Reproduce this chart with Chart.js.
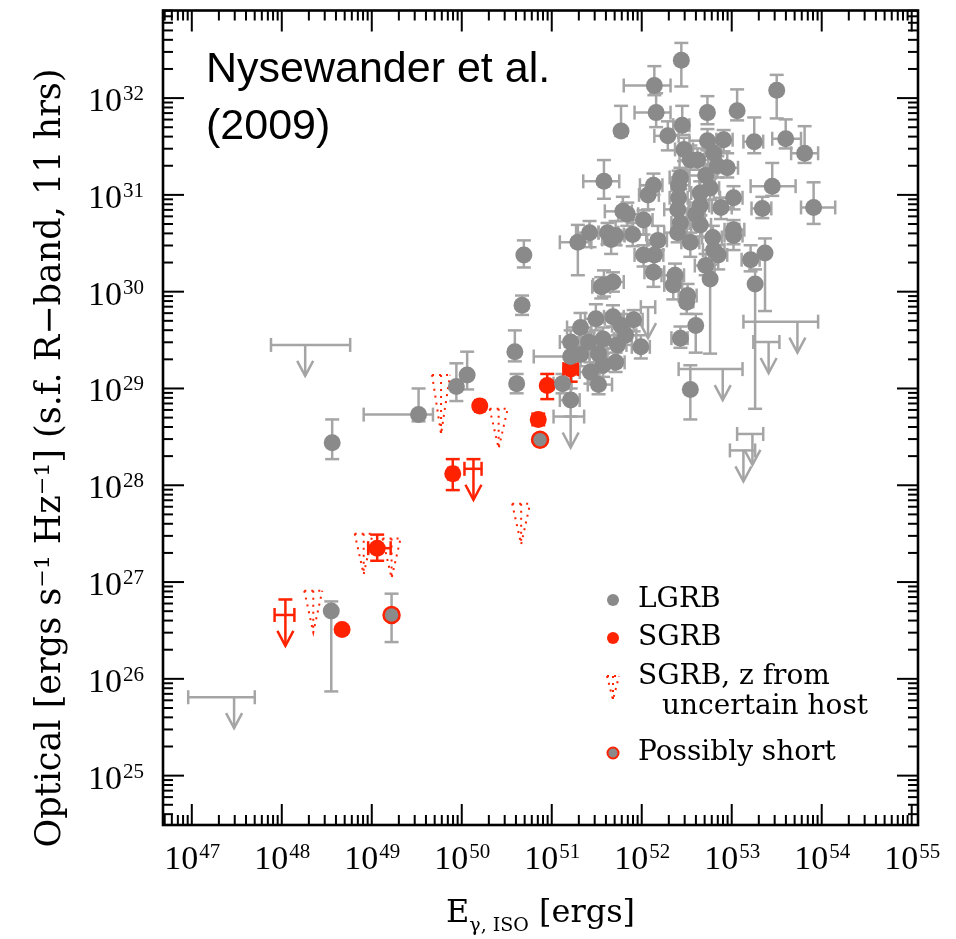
<!DOCTYPE html>
<html>
<head>
<meta charset="utf-8">
<script src="https://cdn.jsdelivr.net/npm/chart.js@4.4.1/dist/chart.umd.min.js"></script>
<style>
  html, body { margin: 0; padding: 0; background: #fff; }
</style>
</head>
<body>
<canvas id="grb" width="956" height="939"></canvas>
<script>
// axis decades (log10) and their labels as [base, exponent]
const xDecades = [47, 48, 49, 50, 51, 52, 53, 54, 55];
const xTickLabels = [["10","47"], ["10","48"], ["10","49"], ["10","50"], ["10","51"], ["10","52"], ["10","53"], ["10","54"], ["10","55"]];
const yDecades = [25, 26, 27, 28, 29, 30, 31, 32];
const yTickLabels = [["10","25"], ["10","26"], ["10","27"], ["10","28"], ["10","29"], ["10","30"], ["10","31"], ["10","32"]];

// LGRB: [log E, log L, err up, err down, x err low, x err high]  (errors in dex)
const lgrb = [
  [52.44, 32.39, 0.18, 0.27, 0, 0], [52.14, 32.13, 0.20, 0.10, 0.34, 0.18],
  [52.16, 31.85, 0.20, 0.15, 0.24, 0.16], [51.77, 31.66, 0.26, 0.05, 0, 0],
  [52.73, 31.85, 0.17, 0.12, 0, 0], [53.06, 31.87, 0.22, 0.10, 0, 0],
  [53.50, 32.08, 0.16, 0.29, 0, 0], [52.45, 31.72, 0.20, 0.10, 0.10, 0.08],
  [52.29, 31.61, 0.15, 0.15, 0.15, 0.12], [52.73, 31.56, 0.12, 0.10, 0.20, 0.10],
  [52.91, 31.57, 0.10, 0.12, 0.08, 0.10], [53.25, 31.55, 0.25, 0.12, 0.12, 0.10],
  [53.60, 31.58, 0.20, 0.10, 0.15, 0.17], [53.81, 31.43, 0.28, 0.10, 0.15, 0.15],
  [51.58, 31.14, 0.22, 0.18, 0.23, 0.17], [52.47, 31.47, 0.12, 0.12, 0.10, 0.10],
  [52.54, 31.36, 0.15, 0.10, 0.12, 0.15], [52.80, 31.43, 0.12, 0.15, 0.10, 0.08],
  [52.84, 31.30, 0.10, 0.12, 0.15, 0.10], [52.95, 31.28, 0.15, 0.10, 0.10, 0.12],
  [52.71, 31.20, 0.12, 0.15, 0.20, 0.10], [52.43, 31.18, 0.10, 0.12, 0.12, 0.10],
  [52.41, 31.10, 0.15, 0.12, 0.08, 0.12], [52.13, 31.10, 0.12, 0.10, 0.15, 0.10],
  [52.07, 31.00, 0.10, 0.15, 0.10, 0.12], [53.45, 31.09, 0.24, 0.10, 0.24, 0.26],
  [52.65, 31.02, 0.12, 0.12, 0.10, 0.15], [51.79, 30.83, 0.15, 0.10, 0.20, 0.10],
  [51.84, 30.80, 0.12, 0.12, 0.10, 0.12], [52.02, 30.74, 0.10, 0.15, 0.12, 0.10],
  [52.41, 30.97, 0.12, 0.10, 0.10, 0.10], [52.40, 30.85, 0.10, 0.12, 0.15, 0.12],
  [52.43, 30.71, 0.12, 0.15, 0.10, 0.10], [52.65, 30.89, 0.15, 0.10, 0.12, 0.10],
  [53.02, 30.97, 0.12, 0.12, 0.15, 0.10], [53.02, 30.64, 0.10, 0.15, 0.10, 0.12],
  [53.34, 30.86, 0.12, 0.10, 0.12, 0.10], [53.91, 30.87, 0.26, 0.17, 0.14, 0.24],
  [52.62, 31.36, 0.12, 0.10, 0.10, 0.12], [52.76, 31.07, 0.10, 0.12, 0.12, 0.10],
  [52.60, 30.80, 0.12, 0.10, 0.10, 0.10], [52.88, 30.87, 0.10, 0.12, 0.10, 0.12],
  [52.79, 30.56, 0.12, 0.12, 0.12, 0.10], [52.54, 30.51, 0.10, 0.15, 0.10, 0.10],
  [51.29, 30.51, 0.18, 0.34, 0.20, 0.15], [51.42, 30.61, 0.12, 0.15, 0.15, 0.10],
  [51.62, 30.61, 0.10, 0.12, 0.10, 0.12], [51.71, 30.58, 0.15, 0.10, 0.12, 0.10],
  [51.90, 30.59, 0.12, 0.12, 0.10, 0.15], [51.66, 30.54, 0.10, 0.15, 0.10, 0.10],
  [52.40, 30.61, 0.12, 0.10, 0.15, 0.10], [52.65, 30.69, 0.10, 0.12, 0.10, 0.12],
  [53.02, 30.58, 0.12, 0.15, 0.10, 0.10], [52.18, 30.53, 0.15, 0.10, 0.12, 0.10],
  [52.02, 30.38, 0.10, 0.12, 0.10, 0.15], [52.14, 30.38, 0.12, 0.15, 0.10, 0.10],
  [52.80, 30.43, 0.12, 0.10, 0.12, 0.12], [52.85, 30.38, 0.10, 0.15, 0.10, 0.10],
  [53.21, 30.33, 0.15, 0.12, 0.10, 0.10], [53.37, 30.40, 0.15, 0.60, 0, 0],
  [52.13, 30.20, 0.12, 0.15, 0.10, 0.12], [51.58, 30.07, 0.15, 0.12, 0.12, 0.10],
  [51.68, 30.10, 0.10, 0.10, 0.10, 0.12], [52.37, 30.17, 0.12, 0.12, 0.15, 0.10],
  [52.35, 30.07, 0.10, 0.15, 0.10, 0.10], [52.71, 30.27, 0.12, 0.10, 0.12, 0.10],
  [52.76, 30.13, 0.15, 0.77, 0, 0], [53.26, 30.08, 0.15, 1.29, 0, 0],
  [52.51, 29.96, 0.12, 0.12, 0.10, 0.10], [51.55, 30.05, 0.10, 0.12, 0.10, 0.10],
  [52.50, 29.89, 0.10, 0.12, 0, 0], [52.60, 29.65, 0.12, 0.28, 0, 0],
  [52.43, 29.52, 0.12, 0.10, 0.10, 0.08], [52.54, 28.99, 0.25, 0.31, 0, 0],
  [51.49, 29.72, 0.15, 0.12, 0.12, 0.10], [51.68, 29.74, 0.12, 0.10, 0.10, 0.12],
  [51.91, 29.71, 0.10, 0.12, 0.12, 0.10], [51.77, 29.65, 0.12, 0.15, 0.10, 0.10],
  [51.32, 29.63, 0.15, 0.10, 0.15, 0.12], [51.21, 29.48, 0.12, 0.12, 0.12, 0.10],
  [51.41, 29.48, 0.10, 0.12, 0.10, 0.10], [51.57, 29.51, 0.12, 0.10, 0.10, 0.12],
  [51.73, 29.45, 0.10, 0.15, 0.12, 0.10], [51.52, 29.36, 0.12, 0.10, 0.10, 0.10],
  [51.32, 29.35, 0.10, 0.12, 0.12, 0.10], [51.57, 29.24, 0.12, 0.12, 0.10, 0.12],
  [51.71, 29.27, 0.10, 0.10, 0.10, 0.10], [51.52, 29.04, 0.12, 0.10, 0.12, 0.15],
  [51.12, 29.05, 0.10, 0.10, 0.10, 0.10], [51.21, 28.88, 0.12, 0.17, 0.12, 0.10],
  [51.21, 29.33, 0.10, 0.10, 0.41, 0.33], [51.82, 29.55, 0.12, 0.10, 0.10, 0.12],
  [51.43, 29.17, 0.10, 0.12, 0.12, 0.10], [51.99, 29.43, 0.12, 0.12, 0.10, 0.10],
  [48.56, 28.44, 0.24, 0.17, 0, 0], [49.52, 28.73, 0.27, 0.07, 0.61, 0.16],
  [49.94, 29.02, 0.24, 0.15, 0, 0], [50.06, 29.14, 0.24, 0.15, 0, 0],
  [50.59, 29.38, 0.22, 0.10, 0, 0], [50.61, 29.05, 0.10, 0.10, 0, 0],
  [50.69, 30.38, 0.15, 0.13, 0, 0], [50.67, 29.86, 0.10, 0.10, 0, 0],
  [48.55, 26.70, 0.10, 0.83, 0, 0]
];

// SGRB detections, same columns
const sgrb = [
  [48.67, 26.51, 0, 0, 0, 0], [49.06, 27.35, 0.14, 0.13, 0.10, 0.15],
  [49.90, 28.12, 0.15, 0.17, 0.05, 0.05], [50.20, 28.82, 0.04, 0.04, 0.05, 0.05],
  [50.85, 28.68, 0.06, 0.06, 0, 0], [50.95, 29.03, 0.12, 0.14, 0, 0],
  [51.21, 29.20, 0.11, 0.13, 0.08, 0.08]
];

// possibly short bursts, same columns
const possiblyShort = [
  [49.22, 26.66, 0.22, 0.28, 0, 0], [50.87, 28.47, 0.05, 0.05, 0, 0]
];

// LGRB upper limits: [log E, log L, x err low, x err high]
const lgrbLimits = [
  [48.26, 29.45, 0.38, 0.50], [47.47, 25.81, 0.51, 0.23], [53.73, 29.69, 0.60, 0.23],
  [53.41, 29.48, 0.17, 0.12], [52.90, 29.20, 0.49, 0.22], [53.23, 28.53, 0.17, 0.12],
  [53.13, 28.36, 0.15, 0.13], [52.07, 29.84, 0.08, 0.08], [51.21, 28.71, 0.19, 0.15]
];

// SGRB upper limits: [log E, log L, err up, x err low, x err high]
const sgrbLimits = [
  [48.04, 26.66, 0.16, 0.12, 0.10], [50.13, 28.17, 0.10, 0.10, 0.09]
];

// SGRB, z from uncertain host: [log E, log L top, extent down]
const sgrbUncertain = [
  [49.77, 29.14, 0.61], [50.41, 28.79, 0.41], [50.66, 27.81, 0.42],
  [48.91, 27.50, 0.42], [49.22, 27.45, 0.41], [48.35, 26.91, 0.43]
];

const GRAY = "rgb(138,138,138)";
const BAR = "rgb(165,165,165)";
const RED = "rgb(255,34,0)";
const ARROW = 0.32;

const toPt = r => ({ x: 10 ** r[0], y: 10 ** r[1] });

function line(ctx, x1, y1, x2, y2) {
  ctx.beginPath(); ctx.moveTo(x1, y1); ctx.lineTo(x2, y2); ctx.stroke();
}

function arrowHead(ctx, X, tip) {
  ctx.beginPath();
  ctx.moveTo(X - 8, tip - 15); ctx.lineTo(X, tip); ctx.lineTo(X + 8, tip - 15);
  ctx.stroke();
}

function drawDotted(ctx, X, top, tip, hw) {
  ctx.save();
  ctx.strokeStyle = RED; ctx.lineWidth = 2; ctx.setLineDash([2, 5]);
  ctx.beginPath();
  ctx.moveTo(X - hw, top); ctx.lineTo(X, tip); ctx.lineTo(X + hw, top);
  ctx.stroke();
  line(ctx, X - hw, top, X + hw, top);
  line(ctx, X, top, X, tip);
  ctx.restore();
}

function logTicks(ctx, scale, area, side) {
  const lo = Math.floor(Math.log10(scale.min)), hi = Math.ceil(Math.log10(scale.max));
  for (let d = lo; d <= hi; d++) {
    for (let k = 1; k < 10; k++) {
      const v = k * 10 ** d;
      if (v < scale.min || v > scale.max) continue;
      const p = scale.getPixelForValue(v), len = k === 1 ? 21 : 10;
      if (side === "bottom") line(ctx, p, area.bottom, p, area.bottom - len);
      if (side === "top") line(ctx, p, area.top, p, area.top + len);
      if (side === "left") line(ctx, area.left, p, area.left + len, p);
      if (side === "right") line(ctx, area.right, p, area.right - len, p);
    }
  }
}

// "10" with a raised exponent; align 'center' or 'right'
function powerLabel(ctx, lab, x, baseline, align) {
  ctx.font = "34px 'Liberation Serif'"; const wb = ctx.measureText(lab[0]).width;
  ctx.font = "21px 'Liberation Serif'"; const we = ctx.measureText(lab[1]).width;
  const x0 = align === "center" ? x - (wb + we) / 2 : x - (wb + we);
  ctx.font = "34px 'Liberation Serif'"; ctx.fillText(lab[0], x0, baseline);
  ctx.font = "21px 'Liberation Serif'"; ctx.fillText(lab[1], x0 + wb + 1, baseline - 11);
}

const marks = {
  id: "marks",
  beforeDatasetsDraw(chart) {
    const { ctx, scales: { x, y } } = chart;
    const px = e => x.getPixelForValue(10 ** e);
    const py = l => y.getPixelForValue(10 ** l);
    ctx.save();
    ctx.lineWidth = 2.5;
    ctx.lineCap = "butt";

    const errBars = (rows, color) => {
      ctx.strokeStyle = color;
      rows.forEach(r => {
        const X = px(r[0]), Y = py(r[1]);
        if (r[2] || r[3]) {
          const y1 = py(r[1] + r[2]), y2 = py(r[1] - r[3]);
          line(ctx, X, y1, X, y2);
          if (r[2]) line(ctx, X - 7, y1, X + 7, y1);
          if (r[3]) line(ctx, X - 7, y2, X + 7, y2);
        }
        if (r[4] || r[5]) {
          const x1 = px(r[0] - r[4]), x2 = px(r[0] + r[5]);
          line(ctx, x1, Y, x2, Y);
          line(ctx, x1, Y - 7, x1, Y + 7);
          line(ctx, x2, Y - 7, x2, Y + 7);
        }
      });
    };
    errBars(lgrb, BAR);
    errBars(possiblyShort, BAR);

    ctx.strokeStyle = BAR;
    lgrbLimits.forEach(r => {
      const X = px(r[0]), Y = py(r[1]);
      const x1 = px(r[0] - r[2]), x2 = px(r[0] + r[3]), tip = py(r[1] - ARROW);
      line(ctx, x1, Y, x2, Y);
      line(ctx, x1, Y - 7, x1, Y + 7);
      line(ctx, x2, Y - 7, x2, Y + 7);
      line(ctx, X, Y, X, tip);
      arrowHead(ctx, X, tip);
    });

    errBars(sgrb, RED);
    ctx.strokeStyle = RED;
    sgrbLimits.forEach(r => {
      const X = px(r[0]), Y = py(r[1]);
      const top = py(r[1] + r[2]), tip = py(r[1] - ARROW);
      const x1 = px(r[0] - r[3]), x2 = px(r[0] + r[4]);
      line(ctx, X - 7, top, X + 7, top);
      line(ctx, X, top, X, tip);
      line(ctx, x1, Y, x2, Y);
      line(ctx, x1, Y - 7, x1, Y + 7);
      line(ctx, x2, Y - 7, x2, Y + 7);
      arrowHead(ctx, X, tip);
    });

    sgrbUncertain.forEach(r => {
      drawDotted(ctx, px(r[0]), py(r[1]), py(r[1] - r[2]), 9);
    });
    ctx.restore();
  },
  afterDatasetsDraw(chart) {
    const { ctx, chartArea: a, scales: { x, y } } = chart;
    ctx.save();
    // frame and inward ticks
    ctx.strokeStyle = "#000";
    ctx.lineWidth = 2;
    logTicks(ctx, x, a, "bottom");
    logTicks(ctx, x, a, "top");
    logTicks(ctx, y, a, "left");
    logTicks(ctx, y, a, "right");
    ctx.lineWidth = 2.6;
    ctx.strokeRect(a.left, a.top, a.right - a.left, a.bottom - a.top);

    // tick labels
    ctx.fillStyle = "#000";
    ctx.textAlign = "left";
    ctx.textBaseline = "alphabetic";
    x.ticks.forEach((t, i) => powerLabel(ctx, xTickLabels[i], x.getPixelForValue(t.value), a.bottom + 44, "center"));
    y.ticks.forEach((t, i) => powerLabel(ctx, yTickLabels[i], a.left - 20, y.getPixelForValue(t.value) + 13, "right"));

    // annotation
    ctx.font = "43px 'Liberation Sans'";
    ctx.fillText("Nysewander et al.", 206, 82);
    ctx.fillText("(2009)", 206, 139);

    // legend
    ctx.font = "28px 'DejaVu Serif'";
    ctx.textBaseline = "middle";
    const lx = 613, tx = 638;
    ctx.fillStyle = GRAY;
    ctx.beginPath(); ctx.arc(lx, 600, 6, 0, Math.PI * 2); ctx.fill();
    ctx.fillStyle = RED;
    ctx.beginPath(); ctx.arc(lx, 638, 6, 0, Math.PI * 2); ctx.fill();
    drawDotted(ctx, lx, 676, 700, 6);
    ctx.fillStyle = GRAY;
    ctx.strokeStyle = RED; ctx.lineWidth = 2;
    ctx.beginPath(); ctx.arc(lx, 753, 5.5, 0, Math.PI * 2); ctx.fill(); ctx.stroke();
    ctx.fillStyle = "#000";
    ctx.fillText("LGRB", tx, 600);
    ctx.fillText("SGRB", tx, 638);
    ctx.fillText("SGRB, z from", tx, 677);
    ctx.fillText("uncertain host", 662, 707);
    ctx.fillText("Possibly short", tx, 753);

    // x title with subscript
    ctx.textBaseline = "alphabetic";
    const big = "32px 'DejaVu Serif'", small = "19px 'DejaVu Serif'";
    ctx.font = big; const wE = ctx.measureText("E").width, wR = ctx.measureText(" [ergs]").width;
    ctx.font = small; const wS = ctx.measureText("γ, ISO").width;
    let cx = (a.left + a.right) / 2 - (wE + wS + wR) / 2;
    ctx.font = big; ctx.fillText("E", cx, 922); cx += wE;
    ctx.font = small; ctx.fillText("γ, ISO", cx, 931); cx += wS;
    ctx.font = big; ctx.fillText(" [ergs]", cx, 922);

    // y title
    ctx.save();
    ctx.translate(60, 458);
    ctx.rotate(-Math.PI / 2);
    ctx.textAlign = "center";
    ctx.font = "35px 'DejaVu Serif'";
    ctx.fillText("Optical [ergs s⁻¹ Hz⁻¹] (s.f. R−band, 11 hrs)", 0, 0);
    ctx.restore();
    ctx.restore();
  }
};

new Chart(document.getElementById("grb"), {
  type: "scatter",
  data: {
    datasets: [
      { label: "LGRB", data: lgrb.map(toPt), backgroundColor: GRAY, borderWidth: 0, pointRadius: 8.5 },
      { label: "Possibly short", data: possiblyShort.map(toPt), backgroundColor: GRAY, borderColor: RED, borderWidth: 2.5, pointRadius: 8 },
      { label: "SGRB", data: sgrb.map(toPt), backgroundColor: RED, borderWidth: 0, pointRadius: 8.5 }
    ]
  },
  options: {
    responsive: false,
    animation: false,
    layout: { padding: { top: 7, right: 38, left: 0, bottom: 0 } },
    plugins: { legend: { display: false }, tooltip: { enabled: false } },
    scales: {
      x: {
        type: "logarithmic",
        min: 10 ** 46.68, max: 10 ** 55.07,
        afterBuildTicks: s => { s.ticks = xDecades.map(d => ({ value: 10 ** d })); },
        afterFit: s => { s.height = 114; s.paddingLeft = 0; s.paddingRight = 0; },
        ticks: { display: false },
        grid: { display: false, drawTicks: false },
        border: { display: false }
      },
      y: {
        type: "logarithmic",
        min: 10 ** 24.49, max: 10 ** 32.905,
        afterBuildTicks: s => { s.ticks = yDecades.map(d => ({ value: 10 ** d })); },
        afterFit: s => { s.width = 163; s.paddingTop = 0; s.paddingBottom = 0; },
        ticks: { display: false },
        grid: { display: false, drawTicks: false },
        border: { display: false }
      }
    }
  },
  plugins: [marks]
});
</script>
</body>
</html>
